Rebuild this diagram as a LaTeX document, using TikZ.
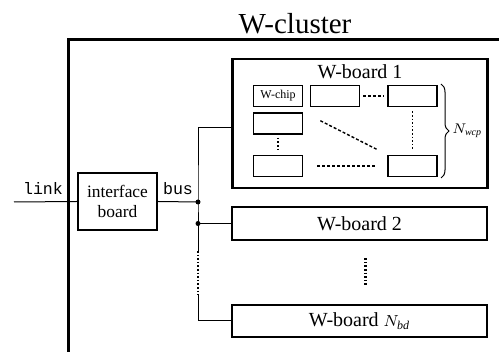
\documentclass[tikz,border=0pt]{standalone}
\usepackage{fontspec}
\setmainfont{Liberation Serif}
\setmonofont{Liberation Mono}
\usetikzlibrary{decorations.pathreplacing}

\begin{document}
\begin{tikzpicture}[x=0.5pt,y=-0.5pt,
  board/.style={draw, line width=1.2pt, minimum width=127.5pt, inner sep=0pt, font=\fontsize{10}{12}\selectfont},
  chip/.style={draw, line width=0.9pt, minimum width=24.5pt, minimum height=10.5pt, inner sep=0pt, font=\fontsize{6}{7}\selectfont},
  wire/.style={line width=0.5pt},
  junction/.style={circle, fill, inner sep=0pt, minimum size=2.5pt},
  dashes/.style={line width=0.7pt, dash pattern=on 1.5pt off 1pt},
  dots/.style={line width=0.9pt, dash pattern=on 0.8pt off 1pt}]
  \useasboundingbox (0,0) rectangle (499,352);
  \node[font=\fontsize{14.5}{16}\selectfont] (title) at (295,24) {W-cluster};
  \draw[line width=1.5pt] (68,362) |- (510,40);
  % W-board 1 with its chips
  \node[board, minimum height=64.5pt] (wb1) at (360,123.5) {};
  \node[font=\fontsize{10}{12}\selectfont] (wb1title) at (360,72) {W-board 1};
  \node[chip] (c11) at (278,96) {W-chip};
  \node[chip] (c12) at (335,96) {};
  \node[chip] (c13) at (412.5,96) {};
  \node[chip] (c21) at (278,123.5) {};
  \node[chip] (c31) at (278,166) {};
  \node[chip] (c33) at (412.5,166) {};
  \draw[dashes, shorten <=1.5pt, shorten >=1.5pt] (c12) -- (c13);
  \draw[dots, shorten <=2pt, shorten >=2pt] (c13) -- (c33);
  \draw[dots, shorten <=1.5pt, shorten >=1.5pt] (c21) -- (c31);
  \draw[dashes, shorten <=7pt, shorten >=5pt] (c31) -- (c33);
  \draw[dashes, shorten <=9.5pt, shorten >=5.5pt] (c21.north east) -- (c33.north west);
  \coordinate (brtop) at (441,84);
  \coordinate (brbot) at (441,178);
  \draw[wire, decorate, decoration={brace, amplitude=4pt}] (brtop) -- (brbot);
  \node[anchor=west, inner sep=0pt, font=\fontsize{7}{8}\selectfont] (nwcp) at (452,131) {$N_{\mathit{wcp}}$};
  % interface and bus
  \node[draw, line width=1.2pt, minimum width=39.5pt, minimum height=28.5pt, inner sep=0pt,
        align=center, font=\fontsize{8.7}{10}\selectfont] (ifb) at (117.5,201.5) {interface\\board};
  \coordinate (linkend) at (14,202);
  \draw[wire] (linkend) -- (ifb.west);
  \node[anchor=base, inner sep=0pt, font=\ttfamily\fontsize{8.3}{10}\selectfont] (link) at (43,195) {link};
  \node[anchor=base, inner sep=0pt, font=\ttfamily\fontsize{8.3}{10}\selectfont] (bus) at (178,195) {bus};
  \node[board, minimum height=16.5pt] (wb2) at (359.5,223.5) {W-board 2};
  \node[board, minimum height=16pt] (wbn) at (359.5,321) {W-board {\fontsize{8}{9}\selectfont$N_{\mathit{bd}}$}};
  \coordinate (bj) at (198,202);
  \coordinate (bj2) at (bj |- wb2.west);
  \coordinate (bd1) at (198,251);
  \coordinate (bd2) at (198,295);
  \draw[wire] (ifb.east) -- (bj);
  \draw[wire] ([yshift=-2pt]wb1.west) -| (bj) -- (bj2);
  \draw[wire] (bj2) -- (wb2.west);
  \draw[wire] (bj2) -- (bd1);
  \draw[dots, line width=0.7pt] (bd1) -- (bd2);
  \draw[wire] (bd2) |- (wbn.west);
  \node[junction] (dot1) at (bj) {};
  \node[junction] (dot2) at (bj2) {};
  \draw[dots, line width=1.1pt, shorten <=8.5pt, shorten >=8.5pt] ([xshift=3pt]wb2.south) -- ([xshift=3pt]wbn.north);
\end{tikzpicture}
\end{document}
